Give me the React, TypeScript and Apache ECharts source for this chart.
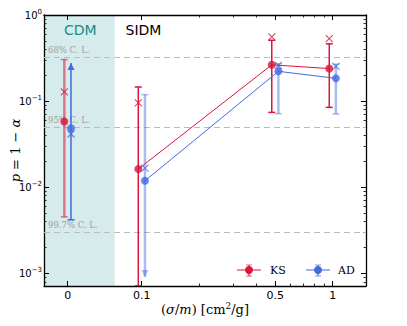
import React, { useEffect, useRef } from "react";
import * as echarts from "echarts";

// ---- data ----
const sigmaLabels = ["0", "0.1", "0.5", "1"];
const sigmaValues = [0.041, 0.1, 0.5, 1]; // CDM (σ/m = 0) is drawn at 0.041
const xMinorValues = [0.2, 0.3, 0.4, 0.6, 0.7, 0.8, 0.9];
const yTickExps = [-3, -2, -1, 0];

const ksP = [0.058, 0.0163, 0.264, 0.239];
const ksLow = [0.00454, 0.00072, 0.0741, 0.0847];
const ksHigh = [0.304, 0.146, 0.509, 0.463];
const ksCross = [0.128, 0.0953, 0.558, 0.533];
const ksBarAlpha = [0.55, 1, 1, 1];
const ksLowArrow = [false, false, false, false];
const ksHighArrow = [false, false, false, false];

const adP = [0.0485, 0.0119, 0.222, 0.184];
const adLow = [0.0042, 0.00091, 0.0716, 0.071];
const adHigh = [0.277, 0.119, 0.272, 0.268];
const adCross = [0.0416, 0.0167, 0.261, 0.254];
const adBarAlpha = [1, 0.45, 0.45, 0.45];
const adLowArrow = [false, true, false, false];
const adHighArrow = [true, false, false, false];

const clLabels = ["68% C. L.", "95% C. L.", "99.7% C. L."];
const clValues = [0.32, 0.05, 0.003];

const xMin = 0.0308;
const xMax = 1.495;
const yMin = 0.000716;
const yMax = 1;
const cdmEdge = 0.0722;
const ksShift = 0.96;
const adShift = 1.04;

const KS = "#DC143C";
const AD = "#4169E1";
const L = Math.log10;

const yMinorValues: number[] = [];
for (let n = -4; n <= -1; n++) {
  for (let k = 2; k <= 9; k++) {
    const v = k * Math.pow(10, n);
    if (v >= yMin && v <= yMax) yMinorValues.push(v);
  }
}

const makeErrorBars =
  (color: string, alpha: number[], lowArrow: boolean[], highArrow: boolean[]) =>
  (params: any, api: any) => {
    const i = api.value(3);
    const top = api.coord([api.value(0), api.value(2)]);
    const bot = api.coord([api.value(0), api.value(1)]);
    const op = alpha[i];
    const w = op < 1 ? 2.5 : 1.5;
    const children: any[] = [
      {
        type: "line",
        shape: { x1: top[0], y1: top[1], x2: bot[0], y2: bot[1] },
        style: { stroke: color, lineWidth: w, opacity: op },
      },
    ];
    const cap = (p: number[]) => ({
      type: "line",
      shape: { x1: p[0] - 3.5, y1: p[1], x2: p[0] + 3.5, y2: p[1] },
      style: { stroke: color, lineWidth: 1.5, opacity: op },
    });
    const arrow = (p: number[], up: boolean) => ({
      type: "polygon",
      shape: {
        points: [
          [p[0], p[1]],
          [p[0] - 3.5, p[1] + (up ? 7 : -7)],
          [p[0] + 3.5, p[1] + (up ? 7 : -7)],
        ],
      },
      style: { fill: color, opacity: op },
    });
    children.push(highArrow[i] ? arrow(top, true) : cap(top));
    children.push(lowArrow[i] ? arrow(bot, false) : cap(bot));
    return { type: "group", children };
  };

const crossPath = "path://M0,0L10,10M10,0L0,10";

export default function App() {
  const ref = useRef<HTMLDivElement>(null);
  useEffect(() => {
    if (!ref.current) return;
    const chart = echarts.init(ref.current, null, { renderer: "svg" });
    const gridRect = { left: 44, right: 41, top: 15, bottom: 40, outerBoundsMode: "none" };
    const xMajor = sigmaValues.map(L);
    const yMajor = yTickExps.slice();
    const baseX = {
      type: "value",
      min: L(xMin),
      max: L(xMax),
      splitLine: { show: false },
    };
    const baseY = {
      type: "value",
      min: L(yMin),
      max: L(yMax),
      splitLine: { show: false },
    };
    const spine = { show: true, onZero: false, lineStyle: { color: "#000", width: 1.3 } };
    const noSpine = { show: false, onZero: false };
    const majorTick = (vals: number[]) => ({
      show: true,
      inside: true,
      length: 5,
      customValues: vals,
      lineStyle: { color: "#000", width: 1 },
    });
    const minorTick = (vals: number[]) => ({
      show: true,
      inside: true,
      length: 2.5,
      customValues: vals,
      lineStyle: { color: "#000", width: 0.8 },
    });

    const option: any = {
      animation: false,
      backgroundColor: "#fff",
      grid: [gridRect, { ...gridRect }],
      xAxis: [
        {
          ...baseX,
          gridIndex: 0,
          position: "bottom",
          axisLine: spine,
          axisTick: majorTick(xMajor),
          axisLabel: {
            customValues: xMajor,
            margin: 4,
            fontSize: 11,
            color: "#000",
            fontFamily: "DejaVu Sans",
            formatter: (v: number) => {
              const i = xMajor.findIndex((m) => Math.abs(m - v) < 1e-6);
              return i >= 0 ? sigmaLabels[i] : "";
            },
          },
          name: "({i|σ}/{i|m}) [cm{s|2}/g]",
          nameLocation: "middle",
          nameGap: 15,
          nameMoveOverlap: false,
          nameTextStyle: {
            fontFamily: "DejaVu Serif",
            fontSize: 13,
            color: "#000",
            rich: {
              i: { fontFamily: "DejaVu Serif", fontStyle: "italic", fontSize: 13, color: "#000" },
              s: { fontFamily: "DejaVu Serif", fontSize: 9, color: "#000", padding: [0, 0, 7, 0] },
            },
          },
        },
        {
          ...baseX,
          gridIndex: 0,
          position: "top",
          axisLine: spine,
          axisTick: majorTick(xMajor),
          axisLabel: { show: false },
        },
        {
          ...baseX,
          gridIndex: 1,
          position: "bottom",
          axisLine: noSpine,
          axisTick: minorTick(xMinorValues.map(L)),
          axisLabel: { show: false },
        },
        {
          ...baseX,
          gridIndex: 1,
          position: "top",
          axisLine: noSpine,
          axisTick: minorTick(xMinorValues.map(L)),
          axisLabel: { show: false },
        },
      ],
      yAxis: [
        {
          ...baseY,
          gridIndex: 0,
          position: "left",
          axisLine: spine,
          axisTick: majorTick(yMajor),
          axisLabel: {
            customValues: yMajor,
            margin: 2,
            color: "#000",
            formatter: (v: number) => {
              const e = Math.round(v);
              return `{b|10}{s|${e === 0 ? "0" : "−" + Math.abs(e)}}`;
            },
            rich: {
              b: { fontFamily: "DejaVu Sans", fontSize: 10, color: "#000" },
              s: { fontFamily: "DejaVu Sans", fontSize: 7, color: "#000", padding: [0, 0, 6, 0] },
            },
          },
          name: "{i|p} = 1 − {i|α}",
          nameLocation: "middle",
          nameGap: 22,
          nameRotate: 90,
          nameMoveOverlap: false,
          nameTextStyle: {
            fontFamily: "DejaVu Serif",
            fontSize: 13,
            color: "#000",
            rich: {
              i: { fontFamily: "DejaVu Serif", fontStyle: "italic", fontSize: 13, color: "#000" },
            },
          },
        },
        {
          ...baseY,
          gridIndex: 0,
          position: "right",
          axisLine: spine,
          axisTick: majorTick(yMajor),
          axisLabel: { show: false },
        },
        {
          ...baseY,
          gridIndex: 1,
          position: "left",
          axisLine: noSpine,
          axisTick: minorTick(yMinorValues.map(L)),
          axisLabel: { show: false },
        },
        {
          ...baseY,
          gridIndex: 1,
          position: "right",
          axisLine: noSpine,
          axisTick: minorTick(yMinorValues.map(L)),
          axisLabel: { show: false },
        },
      ],
      series: [
        {
          type: "custom",
          name: "KS error",
          xAxisIndex: 0,
          yAxisIndex: 0,
          clip: true,
          z: 2,
          renderItem: makeErrorBars(KS, ksBarAlpha, ksLowArrow, ksHighArrow),
          encode: { x: 0, y: [1, 2] },
          data: sigmaValues.map((s, i) => [L(s * ksShift), L(ksLow[i]), L(ksHigh[i]), i]),
          markArea: {
            silent: true,
            z: 0,
            itemStyle: { color: "rgba(0,128,128,0.16)" },
            data: [[{ xAxis: L(xMin) }, { xAxis: L(cdmEdge) }]],
          },
          markLine: {
            silent: true,
            z: 1,
            symbol: "none",
            lineStyle: { color: "#bbbbbb", type: [6, 4], width: 1.2 },
            label: {
              show: true,
              position: "insideStartTop",
              formatter: "{b}",
              color: "#a0a0a0",
              fontFamily: "DejaVu Serif",
              fontSize: 8.5,
              distance: [4, 3],
            },
            data: clValues.map((v, i) => ({ yAxis: L(v), name: clLabels[i] })),
          },
        },
        {
          type: "custom",
          name: "AD error",
          xAxisIndex: 0,
          yAxisIndex: 0,
          clip: true,
          z: 2,
          renderItem: makeErrorBars(AD, adBarAlpha, adLowArrow, adHighArrow),
          encode: { x: 0, y: [1, 2] },
          data: sigmaValues.map((s, i) => [L(s * adShift), L(adLow[i]), L(adHigh[i]), i]),
        },
        {
          type: "line",
          name: "KS line",
          xAxisIndex: 0,
          yAxisIndex: 0,
          z: 3,
          showSymbol: false,
          lineStyle: { color: KS, width: 1 },
          data: sigmaValues.slice(1).map((s, i) => [L(s * ksShift), L(ksP[i + 1])]),
        },
        {
          type: "line",
          name: "AD line",
          xAxisIndex: 0,
          yAxisIndex: 0,
          z: 3,
          showSymbol: false,
          lineStyle: { color: AD, width: 1 },
          data: sigmaValues.slice(1).map((s, i) => [L(s * adShift), L(adP[i + 1])]),
        },
        {
          type: "scatter",
          name: "KS",
          xAxisIndex: 0,
          yAxisIndex: 0,
          z: 5,
          symbol: "circle",
          symbolSize: 8,
          itemStyle: { color: KS },
          data: sigmaValues.map((s, i) => [L(s * ksShift), L(ksP[i])]),
        },
        {
          type: "scatter",
          name: "AD",
          xAxisIndex: 0,
          yAxisIndex: 0,
          z: 5,
          symbol: "circle",
          symbolSize: 8,
          itemStyle: { color: AD },
          data: sigmaValues.map((s, i) => [L(s * adShift), L(adP[i])]),
        },
        {
          type: "scatter",
          name: "KS max",
          xAxisIndex: 0,
          yAxisIndex: 0,
          z: 4,
          symbol: crossPath,
          symbolSize: 7,
          itemStyle: { color: "transparent", borderColor: KS, borderWidth: 1.1 },
          data: sigmaValues.map((s, i) => [L(s * ksShift), L(ksCross[i])]),
        },
        {
          type: "scatter",
          name: "AD max",
          xAxisIndex: 0,
          yAxisIndex: 0,
          z: 4,
          symbol: crossPath,
          symbolSize: 7,
          itemStyle: { color: "transparent", borderColor: AD, borderWidth: 1.1 },
          data: sigmaValues.map((s, i) => [L(s * adShift), L(adCross[i])]),
        },
      ],
      graphic: [
        {
          type: "text",
          x: 64,
          y: 30,
          z: 10,
          style: { text: "CDM", fill: "#168c8c", fontSize: 14, fontFamily: "DejaVu Sans", verticalAlign: "middle" },
        },
        {
          type: "text",
          x: 125.5,
          y: 30,
          z: 10,
          style: { text: "SIDM", fill: "#000", fontSize: 14, fontFamily: "DejaVu Sans", verticalAlign: "middle" },
        },
        // legend KS
        { type: "line", z: 10, shape: { x1: 237, y1: 270, x2: 261, y2: 270 }, style: { stroke: KS, lineWidth: 1 } },
        { type: "line", z: 10, shape: { x1: 249, y1: 265, x2: 249, y2: 276 }, style: { stroke: KS, lineWidth: 2, opacity: 0.55 } },
        { type: "line", z: 10, shape: { x1: 246, y1: 265, x2: 252, y2: 265 }, style: { stroke: KS, lineWidth: 1.2, opacity: 0.55 } },
        { type: "line", z: 10, shape: { x1: 246, y1: 276, x2: 252, y2: 276 }, style: { stroke: KS, lineWidth: 1.2, opacity: 0.55 } },
        { type: "circle", z: 11, shape: { cx: 249, cy: 270, r: 4 }, style: { fill: KS } },
        {
          type: "text",
          x: 270,
          y: 270,
          z: 10,
          style: { text: "KS", fill: "#000", fontSize: 11, fontFamily: "DejaVu Serif", verticalAlign: "middle" },
        },
        // legend AD
        { type: "line", z: 10, shape: { x1: 306, y1: 270, x2: 330, y2: 270 }, style: { stroke: AD, lineWidth: 1 } },
        { type: "line", z: 10, shape: { x1: 318, y1: 265, x2: 318, y2: 276 }, style: { stroke: AD, lineWidth: 2, opacity: 0.55 } },
        { type: "line", z: 10, shape: { x1: 315, y1: 265, x2: 321, y2: 265 }, style: { stroke: AD, lineWidth: 1.2, opacity: 0.55 } },
        { type: "line", z: 10, shape: { x1: 315, y1: 276, x2: 321, y2: 276 }, style: { stroke: AD, lineWidth: 1.2, opacity: 0.55 } },
        { type: "circle", z: 11, shape: { cx: 318, cy: 270, r: 4 }, style: { fill: AD } },
        {
          type: "text",
          x: 338,
          y: 270,
          z: 10,
          style: { text: "AD", fill: "#000", fontSize: 11, fontFamily: "DejaVu Serif", verticalAlign: "middle" },
        },
      ],
    };
    chart.setOption(option);
    return () => chart.dispose();
  }, []);
  return (
    <div
      ref={ref}
      style={{ position: "fixed", left: 0, top: 0, width: 407, height: 326 }}
    />
  );
}
